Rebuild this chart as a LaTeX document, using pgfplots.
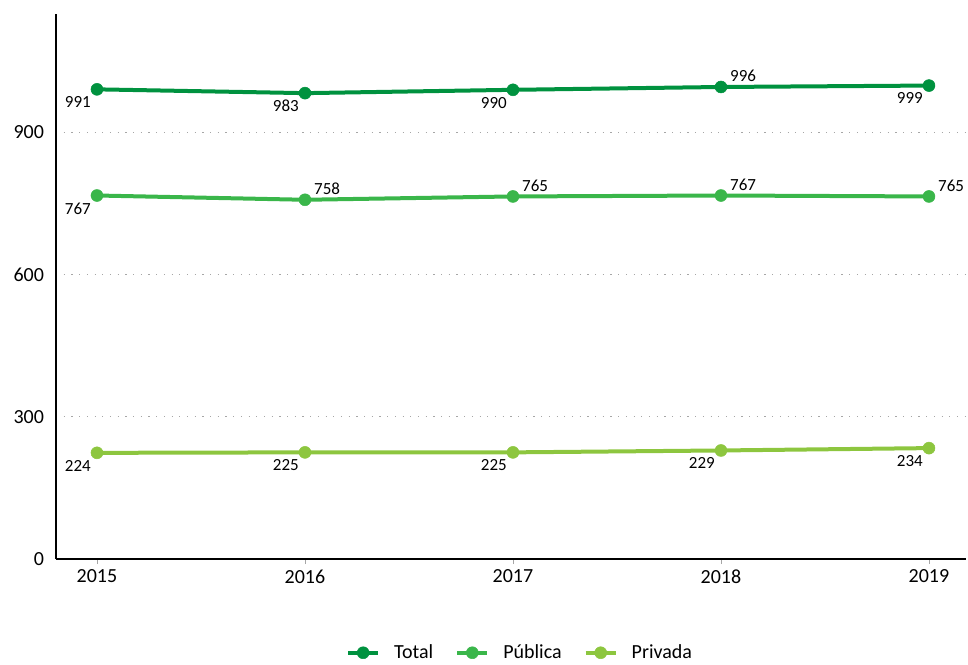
\documentclass[border=0pt]{standalone}
\usepackage{fontspec}
\setmainfont{Carlito}
\usepackage{pgfplots}
\pgfplotsset{compat=1.18}
\definecolor{cTot}{RGB}{0,146,63}
\definecolor{cPub}{RGB}{58,182,74}
\definecolor{cPri}{RGB}{141,198,63}
\begin{document}
\begin{tikzpicture}
\useasboundingbox (0,0) rectangle (968pt,664pt);
\begin{axis}[
  at={(56pt,105pt)}, anchor=south west,
  scale only axis, width=910pt, height=545pt,
  xmin=2014.803, xmax=2019.178, ymin=0, ymax=1150,
  clip=false,
  axis x line=bottom, axis y line=left,
  axis line style={line width=2.5pt, -, black},
  xtick={2015,2016,2017,2018,2019},
  ytick={0,300,600,900},
  xtick align=outside,
  xtick style={gray!70, line width=0.6pt},
  major tick length=5pt,
  ytick style={draw=none},
  ymajorgrids,
  grid style={gray!70, line width=0.9pt, dash pattern=on 1.2pt off 6.5pt},
  /pgf/number format/assume math mode=true,
  /pgf/number format/1000 sep={},
  tick label style={font=\fontsize{20}{24}\selectfont},
  xticklabel style={yshift=-2pt},
  yticklabel style={xshift=-6pt},
  every node near coord/.append style={font=\fontsize{17}{20}\selectfont, inner sep=1pt},
  legend style={at={(0.51,-0.172)}, anchor=center, draw=none,
    font=\fontsize{20}{24}\selectfont, legend columns=3,
    /tikz/every odd column/.append style={column sep=12pt},
    /tikz/every even column/.append style={column sep=20pt}},
  legend image code/.code={\draw[mark repeat=2,mark phase=2,#1] plot coordinates {(0pt,0pt) (15pt,0pt) (30pt,0pt)};},
]
\addplot[cTot, line width=4pt, mark=*, mark size=6pt, mark options={solid, line width=0.5pt}] coordinates {(2015,991)(2016,983)(2017,990)(2018,996)(2019,999)};
\addlegendentry{Total}
\addplot[cPub, line width=4pt, mark=*, mark size=6pt, mark options={solid, line width=0.5pt}] coordinates {(2015,767)(2016,758)(2017,765)(2018,767)(2019,765)};
\addlegendentry{Pública}
\addplot[cPri, line width=4pt, mark=*, mark size=6pt, mark options={solid, line width=0.5pt}] coordinates {(2015,224)(2016,225)(2017,225)(2018,229)(2019,234)};
\addlegendentry{Privada}
% labels below-left
\addplot[forget plot, draw=none, mark=none, nodes near coords, nodes near coords style={anchor=north east, xshift=-5pt, yshift=-6pt, text=black}] coordinates {(2015,991)(2016,983)(2017,990)(2019,999)(2015,767)(2015,224)(2016,225)(2017,225)(2018,229)(2019,234)};
% labels above-right
\addplot[forget plot, draw=none, mark=none, nodes near coords, nodes near coords style={anchor=south west, xshift=8pt, yshift=4pt, text=black}] coordinates {(2018,996)(2016,758)(2017,765)(2018,767)(2019,765)};
\end{axis}
\end{tikzpicture}
\end{document}
